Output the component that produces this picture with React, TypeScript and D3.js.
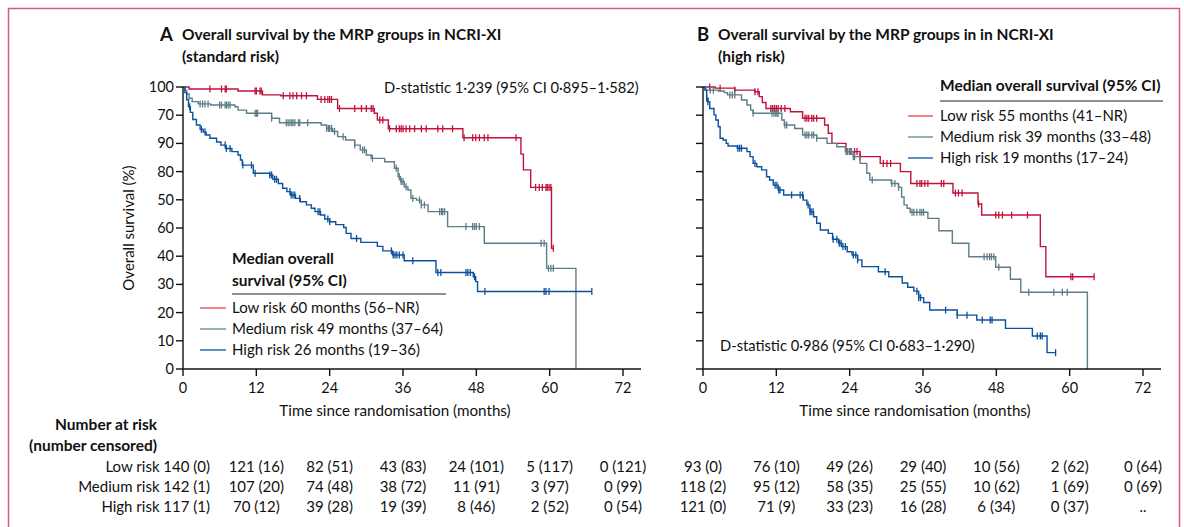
import React from "react";
import * as d3 from "d3";

type Step = [number, number];

// ---------- Panel A (standard risk) ----------
const lowA_steps: Step[] = [[0,100],[1,99.3],[9,98.6],[13,97.2],[16,96.9],[22,95.6],[25.3,92.4],[31.3,90.7],[31.8,88.3],[33.6,85.2],[45.8,82.0],[55.3,76.2],[55.7,70.6],[56.9,64.4],[60.3,42.8]];
const lowA_end = 60.6;
const lowA_censor = [4.4,6.3,6.9,7.1,11.8,12.0,12.6,12.8,16.4,17.5,18.0,18.6,19.4,20.2,22.6,23.2,23.7,24.0,24.3,25.6,28.1,29.2,30.0,30.8,31.1,32.2,32.7,33.8,34.9,35.4,35.7,36.0,36.5,37.1,37.9,39.0,39.8,41.7,42.5,44.1,46.0,47.4,47.9,48.5,49.3,49.9,54.5,57.7,58.3,58.8,59.4,59.6,59.9,60.2,60.6];

const medA_steps: Step[] = [[0,100],[0.3,98.9],[0.6,97.5],[1.0,96.0],[1.5,94.8],[2.5,94.0],[4.5,93.6],[8.5,93.0],[9.0,91.8],[10.4,90.7],[14.5,88.9],[15.8,87.3],[22.6,86.5],[23.5,85.3],[24.5,84.2],[25.3,82.4],[26.6,81.2],[28.1,79.4],[29.0,77.7],[30.0,75.9],[30.8,74.7],[33.0,73.5],[34.6,71.2],[35.2,68.2],[35.6,66.5],[36.2,64.6],[36.8,63.5],[37.3,60.5],[38.2,59.9],[39.0,58.2],[40.1,55.8],[43.3,50.5],[49.3,44.6],[59.5,35.7],[64.3,0]];
const medA_end = 64.3;
const medA_censor = [2.8,3.2,3.6,4.1,6.0,6.3,6.9,7.1,7.4,7.7,11.8,12.0,12.2,14.5,16.9,17.2,17.5,17.8,18.0,18.3,18.9,19.1,20.4,23.5,23.8,24.0,24.3,24.8,26.2,28.1,29.4,29.7,31.0,34.9,35.4,35.7,36.0,36.5,37.6,38.7,39.0,39.5,42.0,42.3,42.5,42.8,46.3,47.4,47.7,48.0,48.5,58.6,59.1,59.8,60.2,60.6];

const highA_steps: Step[] = [[0,100],[0.3,98],[0.6,95.5],[0.9,93],[1.2,91],[1.6,88.5],[2.2,86.5],[2.8,85],[3.3,84],[3.8,83],[4.4,81.8],[5.5,80.5],[6.2,79.4],[7.0,78.2],[8.0,77.1],[9.0,75.9],[9.4,74.1],[9.7,72.3],[11.5,69.4],[14.2,68.8],[14.7,67.3],[15.6,65.8],[16.3,64.1],[17.0,62.9],[17.6,61.7],[18.4,60.5],[19.2,59.3],[20.2,58.2],[21.0,57],[21.6,55.8],[22.5,54.6],[23.2,53.2],[24.0,52.2],[25.0,51.2],[26.3,50.2],[26.7,48.1],[27.5,46.3],[29.1,44.9],[31.8,43.5],[32.7,41.9],[34.3,40.4],[36.2,38.4],[41.4,34.2],[47.5,32.7],[47.9,31.0],[48.2,27.5]];
const highA_end = 66.9;
const highA_censor = [1.1,3.0,3.6,6.9,7.1,7.7,9.8,11.2,11.8,14.2,14.5,15.0,15.3,17.5,17.7,18.0,18.3,19.1,22.1,22.4,23.7,24.0,28.4,34.1,34.4,34.7,35.0,35.4,36.0,37.6,41.7,42.2,46.3,46.6,47.0,47.7,49.4,59.1,59.4,59.9,66.9];

// ---------- Panel B (high risk) ----------
const lowB_steps: Step[] = [[0,100],[2,99.6],[5.2,98.9],[8.5,98.3],[9.2,96.6],[9.7,94.5],[10.3,92.4],[14.3,91.2],[16.3,88.9],[19.9,86.5],[20.5,83.6],[21.1,80],[23.4,77.1],[25.7,75.3],[29.0,72.9],[32.3,70],[34.0,65.8],[40.9,62.4],[45.0,58.5],[45.6,54.6],[55.2,43.4],[56.1,32.7]];
const lowB_end = 64.0;
const lowB_censor = [1.1,2.8,5.2,8.5,9.0,11.1,11.4,11.7,12.0,12.3,12.8,13.4,16.7,17.0,17.3,17.8,18.1,18.6,23.6,24.2,24.8,25.2,25.7,29.5,30.1,30.7,35.0,35.5,35.8,36.3,36.8,39.0,39.4,41.3,41.8,42.4,45.1,47.9,48.4,49.0,50.5,53.1,60.2,60.5,64.0];

const medB_steps: Step[] = [[0,100],[0.5,98.9],[2.5,98.6],[3.5,98.0],[4.0,97.2],[6.3,95.4],[7.2,93.6],[7.8,91.8],[8.2,90.7],[12.9,88.3],[13.3,86.5],[15.0,85.3],[16.3,83.0],[18.6,81.8],[20.3,80.0],[21.9,78.8],[23.3,77.1],[24.6,75.3],[25.7,72.9],[26.8,69.4],[27.3,67.0],[30.8,65.8],[32.0,64.4],[32.5,61.0],[32.9,58.2],[33.4,57.0],[33.9,55.6],[36.8,53.4],[38.6,49.0],[40.8,44.6],[43.5,39.8],[47.9,36.1],[50.3,31.8],[52.0,27.2],[62.9,0]];
const medB_end = 62.9;
const medB_censor = [1.2,1.7,4.4,4.8,5.2,8.2,11.3,11.6,11.9,12.1,12.3,13.4,13.7,16.7,17.0,17.3,17.8,18.1,18.6,23.4,23.7,24.0,24.3,24.6,24.8,27.7,30.9,31.4,32.0,34.2,34.5,35.0,35.5,35.8,36.1,46.0,46.5,46.9,47.2,47.6,48.4,53.3,57.4,58.8,59.6];

const highB_steps: Step[] = [[0,100],[0.3,98.9],[0.6,96],[0.8,94.8],[1.1,92.4],[1.8,90.1],[2.1,88.3],[2.5,85.9],[2.8,81.8],[3.3,81.2],[3.8,80],[4.1,79.1],[5.6,78.3],[7.2,77.1],[7.7,75.3],[8.2,72.9],[8.8,71.7],[9.6,70.6],[10.4,68.2],[10.9,67],[11.5,65.2],[12.3,63.5],[13.2,61.7],[16.4,59.9],[17.0,58.2],[17.5,55.8],[18.1,54.0],[18.6,51.7],[19.2,49.3],[20.5,48.1],[21.2,46],[22.2,44.6],[22.7,43.4],[23.6,41.6],[24.4,40.4],[25.3,38.7],[26.0,36.3],[28.7,34.5],[30.4,32.7],[32.6,30.5],[33.5,29],[34.5,27.6],[35.3,25.3],[36.1,23.6],[37.1,20.9],[41.6,19.1],[44.8,17.4],[49.5,14.4],[53.9,11.7],[56.3,5.8]];
const highB_end = 57.7;
const highB_censor = [0.6,0.8,5.7,6.0,6.3,8.5,11.8,12.1,12.4,12.6,14.5,15.9,16.3,17.2,17.5,17.7,18.0,21.3,21.9,22.3,22.6,22.9,23.3,24.6,25.0,25.3,29.8,35.0,35.3,35.6,39.7,41.6,43.2,45.7,47.0,47.3,54.7,55.2,55.5,57.7];

// ---------- Axes / labels ----------
const xTicks = [0, 12, 24, 36, 48, 60, 72];
const yTickValues = [100, 90, 80, 70, 60, 50, 40, 30, 20, 10, 0];
const yTickLabelsA = ["100", "70", "90", "80", "50", "60", "40", "30", "20", "10", "0"];

const groupNames = ["Low risk", "Medium risk", "High risk"];
const legendA = ["Low risk 60 months (56–NR)", "Medium risk 49 months (37–64)", "High risk 26 months (19–36)"];
const legendB = ["Low risk 55 months (41–NR)", "Medium risk 39 months (33–48)", "High risk 19 months (17–24)"];

const riskLowA = ["140 (0)", "121 (16)", "82 (51)", "43 (83)", "24 (101)", "5 (117)", "0 (121)"];
const riskMedA = ["142 (1)", "107 (20)", "74 (48)", "38 (72)", "11 (91)", "3 (97)", "0 (99)"];
const riskHighA = ["117 (1)", "70 (12)", "39 (28)", "19 (39)", "8 (46)", "2 (52)", "0 (54)"];
const riskLowB = ["93 (0)", "76 (10)", "49 (26)", "29 (40)", "10 (56)", "2 (62)", "0 (64)"];
const riskMedB = ["118 (2)", "95 (12)", "58 (35)", "25 (55)", "10 (62)", "1 (69)", "0 (69)"];
const riskHighB = ["121 (0)", "71 (9)", "33 (23)", "16 (28)", "6 (34)", "0 (37)", ".."];

const lineColors = ["#c2123c", "#5e7d89", "#0c519e"];
const swatchColors = ["#e8525c", "#6f8b95", "#1e5ea8"];
const FONT = "Lato, 'Open Sans', sans-serif";
const TXT = "#111";

type Curve = { steps: Step[]; end: number; censor: number[] };

const curvesA: Curve[] = [
  { steps: lowA_steps, end: lowA_end, censor: lowA_censor },
  { steps: medA_steps, end: medA_end, censor: medA_censor },
  { steps: highA_steps, end: highA_end, censor: highA_censor },
];
const curvesB: Curve[] = [
  { steps: lowB_steps, end: lowB_end, censor: lowB_censor },
  { steps: medB_steps, end: medB_end, censor: medB_censor },
  { steps: highB_steps, end: highB_end, censor: highB_censor },
];

function valueAt(steps: Step[], t: number): number {
  let v = steps[0][1];
  for (const s of steps) {
    if (s[0] <= t) v = s[1];
    else break;
  }
  return v;
}

function Panel({ x0, curves, yLabels }: { x0: number; curves: Curve[]; yLabels: string[] | null }) {
  const x = d3.scaleLinear().domain([0, 72]).range([x0, x0 + 440]);
  const y = d3.scaleLinear().domain([0, 100]).range([369, 87]);
  const line = d3
    .line<Step>()
    .x((d) => x(d[0]))
    .y((d) => y(d[1]))
    .curve(d3.curveStepAfter);
  return (
    <g>
      {curves.map((c, i) => {
        const pts: Step[] = [...c.steps, [c.end, c.steps[c.steps.length - 1][1]]];
        return (
          <g key={i}>
            <path d={line(pts) || ""} fill="none" stroke={lineColors[i]} strokeWidth={1.4} />
            {c.censor.map((t, j) => {
              const cx = x(t);
              const cy = y(valueAt(c.steps, t));
              return <line key={j} x1={cx} x2={cx} y1={cy - 3.5} y2={cy + 3.5} stroke={lineColors[i]} strokeWidth={1.3} />;
            })}
          </g>
        );
      })}
      <line x1={x0} x2={x0} y1={y(100)} y2={y(0)} stroke="#111" strokeWidth={1.4} />
      <line x1={x0} x2={x(72) + 18} y1={y(0)} y2={y(0)} stroke="#111" strokeWidth={1.4} />
      {yTickValues.map((v, i) => (
        <g key={v}>
          <line x1={x0 - 7} x2={x0} y1={y(v)} y2={y(v)} stroke="#111" strokeWidth={1.4} />
          {yLabels && (
            <text x={x0 - 9} y={y(v)} dy="0.35em" textAnchor="end" fontSize={14.5} fontFamily={FONT} fill={TXT}>
              {yLabels[i]}
            </text>
          )}
        </g>
      ))}
      {xTicks.map((t) => (
        <g key={t}>
          <line x1={x(t)} x2={x(t)} y1={y(0)} y2={y(0) + 7} stroke="#111" strokeWidth={1.4} />
          <text x={x(t)} y={388} dy="0.35em" textAnchor="middle" fontSize={14.5} fontFamily={FONT} fill={TXT}>
            {t}
          </text>
        </g>
      ))}
      <text x={x(36) - 8} y={411} dy="0.35em" textAnchor="middle" fontSize={15.2} fontFamily={FONT} fill={TXT}>
        Time since randomisation (months)
      </text>
    </g>
  );
}

function RiskTable({ x0, rows, firstRight }: { x0: number; rows: string[][]; firstRight: boolean }) {
  const x = d3.scaleLinear().domain([0, 72]).range([x0, x0 + 440]);
  const rowY = [467, 487, 507];
  return (
    <g fontFamily={FONT} fontSize={15} fill={TXT}>
      {rows.map((r, ri) =>
        r.map((v, ci) => {
          if (ci === 0 && firstRight) {
            return (
              <text key={ci} x={x(0) + 27} y={rowY[ri]} dy="0.35em" textAnchor="end">
                {groupNames[ri] + " " + v}
              </text>
            );
          }
          return (
            <text key={ci} x={x(xTicks[ci])} y={rowY[ri]} dy="0.35em" textAnchor="middle">
              {v}
            </text>
          );
        })
      )}
    </g>
  );
}

export default function App() {
  return (
    <svg width={1184} height={527} style={{ position: "absolute", left: 0, top: 0, background: "#fff" }}>
      <rect x={8.5} y={8.5} width={1171} height={540} fill="none" stroke="#d85a84" strokeWidth={1.5} />

      <g fontFamily={FONT} fill={TXT}>
        <text x={160} y={41} fontSize={18.5} fontWeight={700}>A</text>
        <text x={182} y={40} fontSize={15.5} fontWeight={700}>Overall survival by the MRP groups in NCRI-XI</text>
        <text x={182} y={62} fontSize={15.5} fontWeight={700}>(standard risk)</text>
        <text x={697} y={41} fontSize={18.5} fontWeight={700}>B</text>
        <text x={718} y={40} fontSize={15.5} fontWeight={700}>Overall survival by the MRP groups in in NCRI-XI</text>
        <text x={718} y={62} fontSize={15.5} fontWeight={700}>(high risk)</text>
      </g>

      <text transform="translate(129,228) rotate(-90)" textAnchor="middle" dy="0.35em" fontSize={15} fontFamily={FONT} fill={TXT}>
        Overall survival (%)
      </text>

      <Panel x0={183} curves={curvesA} yLabels={yTickLabelsA} />
      <Panel x0={703} curves={curvesB} yLabels={null} />

      <text x={384} y={88} dy="0.35em" fontSize={14.7} fontFamily={FONT} fill={TXT}>
        D-statistic 1·239 (95% CI 0·895–1·582)
      </text>
      <text x={720} y={346} dy="0.35em" fontSize={14.7} fontFamily={FONT} fill={TXT}>
        D-statistic 0·986 (95% CI 0·683–1·290)
      </text>

      <g fontFamily={FONT} fill={TXT}>
        <text x={232} y={259} dy="0.35em" fontSize={15.5} fontWeight={700}>Median overall</text>
        <text x={232} y={281} dy="0.35em" fontSize={15.5} fontWeight={700}>survival (95% CI)</text>
        <line x1={232} x2={446} y1={294} y2={294} stroke="#222" strokeWidth={1.2} />
        {legendA.map((t, i) => (
          <g key={i}>
            <line x1={200} x2={226} y1={308 + i * 21} y2={308 + i * 21} stroke={swatchColors[i]} strokeWidth={1.4} />
            <text x={232} y={308 + i * 21} dy="0.35em" fontSize={15}>{t}</text>
          </g>
        ))}
      </g>

      <g fontFamily={FONT} fill={TXT}>
        <text x={940} y={86} dy="0.35em" fontSize={15.5} fontWeight={700}>Median overall survival (95% CI)</text>
        <line x1={940} x2={1163} y1={101} y2={101} stroke="#222" strokeWidth={1.2} />
        {legendB.map((t, i) => (
          <g key={i}>
            <line x1={908} x2={933} y1={116 + i * 21} y2={116 + i * 21} stroke={swatchColors[i]} strokeWidth={1.4} />
            <text x={940} y={116 + i * 21} dy="0.35em" fontSize={15}>{t}</text>
          </g>
        ))}
      </g>

      <g fontFamily={FONT} fill={TXT} fontWeight={700} fontSize={15.5}>
        <text x={157} y={425} dy="0.35em" textAnchor="end">Number at risk</text>
        <text x={157} y={446} dy="0.35em" textAnchor="end">(number censored)</text>
      </g>
      <RiskTable x0={183} rows={[riskLowA, riskMedA, riskHighA]} firstRight={true} />
      <RiskTable x0={703} rows={[riskLowB, riskMedB, riskHighB]} firstRight={false} />
    </svg>
  );
}
